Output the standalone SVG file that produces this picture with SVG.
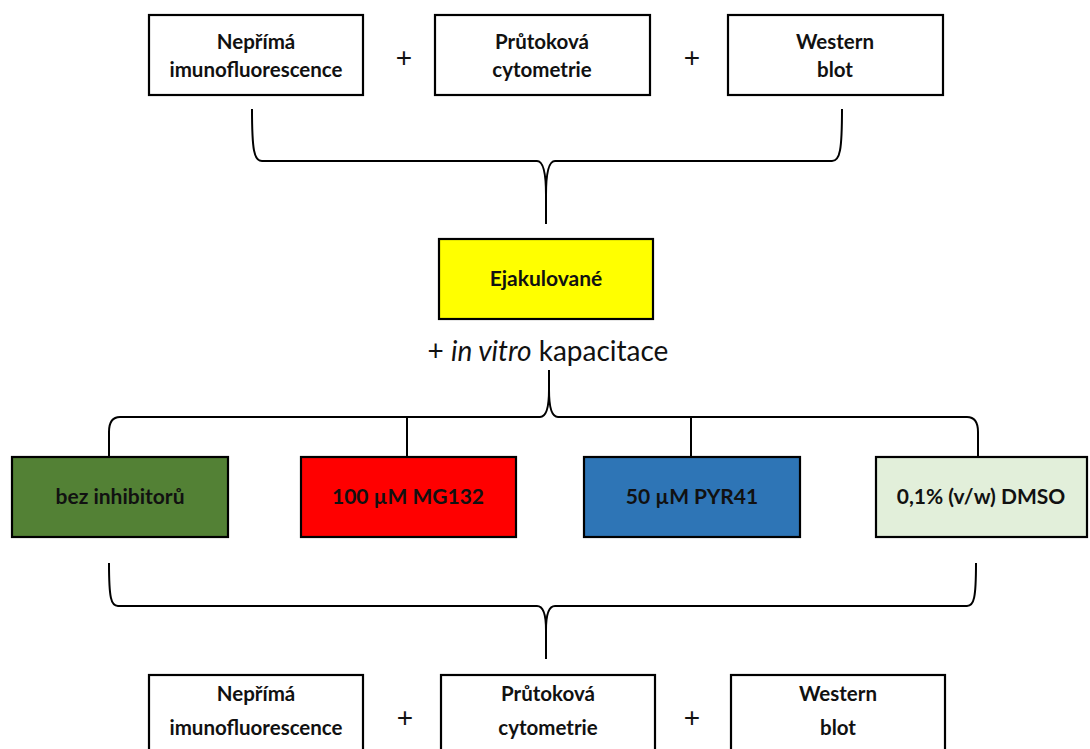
<svg xmlns="http://www.w3.org/2000/svg" width="1090" height="749" viewBox="0 0 1090 749">
<style>
.box{stroke:#000;stroke-width:2.2;}
.w{fill:#fff;}
.t{font-family:Lato,"Open Sans","Liberation Sans",sans-serif;font-weight:bold;fill:#111;text-anchor:middle;}
.big{font-size:20.5px;}
.mid{font-size:21px;}
.plus{font-family:"Liberation Sans",Arial,sans-serif;font-size:28px;fill:#111;text-anchor:middle;}
.c{fill:none;stroke:#000;stroke-width:2;stroke-linejoin:round;}
</style>
<rect width="1090" height="749" fill="#fff"/>
<g id="top-ifa"><rect class="box w" x="149" y="15" width="214" height="80"/><text class="t big" x="256" y="49">Nepřímá</text><text class="t big" x="256" y="77">imunofluorescence</text></g>
<g id="top-flow"><rect class="box w" x="435" y="15" width="215" height="80"/><text class="t big" x="542" y="49">Průtoková</text><text class="t big" x="542" y="77">cytometrie</text></g>
<g id="top-wb"><rect class="box w" x="728" y="15" width="215" height="80"/><text class="t big" x="835" y="49">Western</text><text class="t big" x="835" y="77">blot</text></g>
<text class="plus" x="404" y="67">+</text>
<text class="plus" x="692" y="67">+</text>
<g id="ejak"><rect class="box" fill="#ffff00" x="439" y="239" width="214" height="80"/><text class="t mid" x="546" y="286">Ejakulované</text></g>
<text x="548" y="361" font-family="Lato,'Open Sans','Liberation Sans',sans-serif" font-size="28" fill="#111" text-anchor="middle">+ <tspan font-style="italic">in vitro</tspan> kapacitace</text>
<g id="bez"><rect class="box" fill="#538135" x="12" y="457" width="216" height="80"/><text class="t mid" x="120" y="504">bez inhibitorů</text></g>
<g id="mg132"><rect class="box" fill="#ff0000" x="301" y="457" width="215" height="80"/><text class="t mid" x="408" y="504">100 µM MG132</text></g>
<g id="pyr41"><rect class="box" fill="#2e75b6" x="584" y="457" width="216" height="80"/><text class="t mid" x="692" y="504">50 µM PYR41</text></g>
<g id="dmso"><rect class="box" fill="#e2efda" x="876" y="457" width="211" height="80"/><text class="t mid" x="981" y="504">0,1% (v/w) DMSO</text></g>
<g id="bot-ifa"><rect class="box w" x="149" y="675" width="214" height="80"/><text class="t big" x="256" y="701">Nepřímá</text><text class="t big" x="256" y="735">imunofluorescence</text></g>
<g id="bot-flow"><rect class="box w" x="441" y="675" width="214" height="80"/><text class="t big" x="548" y="701">Průtoková</text><text class="t big" x="548" y="735">cytometrie</text></g>
<g id="bot-wb"><rect class="box w" x="731" y="675" width="214" height="80"/><text class="t big" x="838" y="701">Western</text><text class="t big" x="838" y="735">blot</text></g>
<text class="plus" x="405" y="727">+</text>
<text class="plus" x="692" y="727">+</text>
<g id="connectors">
<path class="c" d="M252,109 C252,150 254,161 262,161 L537,161 Q546,161 546,195 L546,224 M546,195 Q546,161 555,161 L832,161 C840,161 842,150 842,109"/>
<path class="c" d="M109,457 L109,432 Q109,417 120,417 L540,417 Q549,417 549,390 L549,370 M549,390 Q549,417 558,417 L967,417 Q978,417 978,432 L978,457"/>
<path class="c" d="M407,417 L407,457 M691,417 L691,457"/>
<path class="c" d="M109,563 C109,598 111,606 118,606 L537,606 Q546,606 546,630 L546,659 M546,630 Q546,606 555,606 L967,606 C974,606 976,598 976,563"/>
</g>
</svg>
